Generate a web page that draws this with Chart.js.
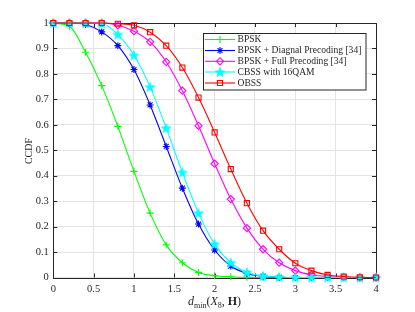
<!DOCTYPE html>
<html>
<head>
<meta charset="utf-8">
<script src="https://cdn.jsdelivr.net/npm/chart.js@4.4.1/dist/chart.umd.min.js"></script>
<style>
  html, body { margin: 0; padding: 0; background: #fff; }
  #wrap { width: 415px; height: 312px; }
</style>
</head>
<body>
<div id="wrap"><canvas id="ccdfChart" width="415" height="312"></canvas></div>
<script>
'use strict';

// ── Data ──────────────────────────────────────────────────────
const dminValues = [0, 0.2, 0.4, 0.6, 0.8, 1.0, 1.2, 1.4, 1.6, 1.8, 2.0, 2.2, 2.4, 2.6, 2.8, 3.0, 3.2, 3.4, 3.6, 3.8, 4.0];
const bpskCcdf   = [1, 0.987, 0.885, 0.754, 0.594, 0.417, 0.253, 0.128, 0.058, 0.020, 0.007, 0.003, 0.001, 0, 0, 0, 0, 0, 0, 0, 0];
const diagCcdf   = [1, 1, 0.994, 0.965, 0.911, 0.817, 0.678, 0.515, 0.351, 0.210, 0.108, 0.045, 0.016, 0.005, 0.001, 0, 0, 0, 0, 0, 0];
const fullCcdf   = [1, 1, 1, 1, 0.991, 0.968, 0.926, 0.847, 0.734, 0.596, 0.447, 0.308, 0.194, 0.111, 0.058, 0.027, 0.011, 0.004, 0.001, 0, 0];
const cbssCcdf   = [1, 1, 1, 0.998, 0.955, 0.873, 0.749, 0.587, 0.413, 0.253, 0.131, 0.058, 0.020, 0.006, 0.002, 0, 0, 0, 0, 0, 0];
const obssCcdf   = [1, 1, 1, 1, 0.997, 0.991, 0.964, 0.911, 0.825, 0.707, 0.570, 0.426, 0.292, 0.184, 0.111, 0.056, 0.027, 0.010, 0.004, 0.001, 0];

const seriesLabels = ['BPSK', 'BPSK + Diagnal Precoding [34]', 'BPSK + Full Precoding [34]', 'CBSS with 16QAM', 'OBSS'];
const xTicks = [0, 0.5, 1, 1.5, 2, 2.5, 3, 3.5, 4];
const yTicks = [0, 0.1, 0.2, 0.3, 0.4, 0.5, 0.6, 0.7, 0.8, 0.9, 1];

const SERIF = '"Liberation Serif", "DejaVu Serif", serif';
const AXIS_COLOR = '#262626';

// filled pentagram marker (MATLAB 'p')
function makePentagram(color, r) {
    const size = Math.ceil(r * 2 + 2);
    const c = document.createElement('canvas');
    c.width = size; c.height = size;
    const g = c.getContext('2d');
    const cx = size / 2, cy = size / 2 + 0.5;
    g.beginPath();
    for (let i = 0; i < 10; i++) {
        const rad = (i % 2 === 0) ? r : r * 0.42;
        const a = -Math.PI / 2 + i * Math.PI / 5;
        const px = cx + rad * Math.cos(a), py = cy + rad * Math.sin(a);
        if (i === 0) g.moveTo(px, py); else g.lineTo(px, py);
    }
    g.closePath();
    g.fillStyle = color; g.fill();
    g.strokeStyle = color; g.lineWidth = 0.8; g.stroke();
    return c;
}
const pentagram = makePentagram('#00ffff', 5);

const toPoints = ys => dminValues.map((x, i) => ({ x, y: ys[i] }));

const seriesStyles = [
    { data: bpskCcdf, color: '#00ff00', style: 'cross',   radius: 3.5, fill: '#00ff00' },
    { data: diagCcdf, color: '#0000ff', style: 'star',    radius: 3.5, fill: '#0000ff' },
    { data: fullCcdf, color: '#ff00ff', style: 'rectRot', radius: 3.6, fill: 'rgba(0,0,0,0)' },
    { data: cbssCcdf, color: '#00ffff', style: pentagram, radius: 5,   fill: '#00ffff' },
    { data: obssCcdf, color: '#ff0000', style: 'rect',    radius: 3.6, fill: 'rgba(0,0,0,0)' }
];

const datasets = seriesStyles.map((s, i) => ({
    label: seriesLabels[i],
    data: toPoints(s.data),
    borderColor: s.color,
    backgroundColor: s.fill,
    borderWidth: 1.1,
    pointStyle: s.style,
    pointRadius: s.radius,
    pointBorderColor: s.color,
    pointBackgroundColor: s.fill,
    pointBorderWidth: 1.1,
    cubicInterpolationMode: 'monotone',
    clip: false,
    order: 5 - i
}));

// ── Plugin: axes box, inward ticks, titles, legend ────────────
const matlabFrame = {
    id: 'matlabFrame',
    beforeDatasetsDraw(chart) {
        const { ctx, chartArea: a, scales } = chart;
        ctx.save();
        ctx.strokeStyle = AXIS_COLOR;
        ctx.lineWidth = 1;
        ctx.strokeRect(Math.round(a.left) + 0.5, Math.round(a.top) + 0.5,
                       Math.round(a.right - a.left), Math.round(a.bottom - a.top));
        const tl = 4;
        ctx.beginPath();
        xTicks.forEach(v => {
            const px = Math.round(scales.x.getPixelForValue(v)) + 0.5;
            ctx.moveTo(px, a.bottom); ctx.lineTo(px, a.bottom - tl);
            ctx.moveTo(px, a.top);    ctx.lineTo(px, a.top + tl);
        });
        yTicks.forEach(v => {
            const py = Math.round(scales.y.getPixelForValue(v)) + 0.5;
            ctx.moveTo(a.left, py);  ctx.lineTo(a.left + tl, py);
            ctx.moveTo(a.right, py); ctx.lineTo(a.right - tl, py);
        });
        ctx.stroke();
        ctx.restore();
    },
    afterDraw(chart) {
        const { ctx } = chart;
        ctx.save();
        ctx.fillStyle = AXIS_COLOR;

        // y title
        ctx.save();
        ctx.translate(29, 151);
        ctx.rotate(-Math.PI / 2);
        ctx.font = '10px ' + SERIF;
        ctx.textAlign = 'center';
        ctx.textBaseline = 'middle';
        ctx.fillText('CCDF', 0, 0);
        ctx.restore();

        // x title: d_min(X_8, H)
        const parts = [
            { t: 'd',   font: 'italic 12px ' + SERIF, dy: 0 },
            { t: 'min', font: '8px ' + SERIF,         dy: 3 },
            { t: '(',   font: '12px ' + SERIF,        dy: 0 },
            { t: 'X',   font: 'italic 12px ' + SERIF, dy: 0 },
            { t: '8',   font: '8px ' + SERIF,         dy: 3 },
            { t: ', ',  font: '12px ' + SERIF,        dy: 0 },
            { t: 'H',   font: 'bold 12px ' + SERIF,   dy: 0 },
            { t: ')',   font: '12px ' + SERIF,        dy: 0 }
        ];
        let total = 0;
        parts.forEach(p => { ctx.font = p.font; p.w = ctx.measureText(p.t).width; total += p.w; });
        let xx = 214.5 - total / 2;
        ctx.textBaseline = 'alphabetic';
        ctx.textAlign = 'left';
        parts.forEach(p => { ctx.font = p.font; ctx.fillText(p.t, xx, 304.5 + p.dy); xx += p.w; });

        // legend box
        const box = { left: 203, top: 33, right: 366.5, bottom: 90.5 };
        ctx.fillStyle = '#fff';
        ctx.fillRect(box.left, box.top, box.right - box.left, box.bottom - box.top);
        ctx.strokeStyle = AXIS_COLOR;
        ctx.lineWidth = 1;
        ctx.strokeRect(box.left + 0.5, box.top + 0.5, box.right - box.left - 1, box.bottom - box.top - 1);

        ctx.font = '10px ' + SERIF;
        const longest = ctx.measureText(seriesLabels[1]).width;
        const fs = Math.min(11, 10 * 124 / longest);
        const rowY = [39.5, 50.5, 61.3, 72, 83];
        seriesStyles.forEach((s, i) => {
            const y = rowY[i];
            ctx.strokeStyle = s.color;
            ctx.lineWidth = 1.1;
            ctx.beginPath();
            ctx.moveTo(205, y); ctx.lineTo(235, y);
            ctx.stroke();
            ctx.fillStyle = s.fill;
            Chart.helpers.drawPoint(ctx, { pointStyle: s.style, radius: s.radius, borderWidth: 1.1, rotation: 0 }, 220, y);
            ctx.fillStyle = AXIS_COLOR;
            ctx.font = fs + 'px ' + SERIF;
            ctx.textBaseline = 'middle';
            ctx.fillText(seriesLabels[i], 237.5, y);
        });
        ctx.restore();
    }
};

new Chart(document.getElementById('ccdfChart').getContext('2d'), {
    type: 'line',
    data: { datasets },
    options: {
        responsive: false,
        animation: false,
        events: [],
        layout: { autoPadding: false, padding: { left: 0, top: 23, right: 39, bottom: 0 } },
        plugins: { legend: { display: false }, tooltip: { enabled: false } },
        scales: {
            x: {
                type: 'linear', min: 0, max: 4,
                afterFit: s => { s.height = 34.5; },
                afterBuildTicks: s => { s.ticks = xTicks.map(v => ({ value: v })); },
                grid: { color: '#e3e3e3', lineWidth: 1, drawTicks: false },
                border: { display: false },
                ticks: { padding: 5, color: AXIS_COLOR, font: { family: SERIF, size: 10.5 }, maxRotation: 0,
                         callback: v => String(+v.toFixed(1)) }
            },
            y: {
                type: 'linear', min: 0, max: 1,
                afterFit: s => { s.width = 53.3; },
                afterBuildTicks: s => { s.ticks = yTicks.map(v => ({ value: v })); },
                grid: { color: '#e3e3e3', lineWidth: 1, drawTicks: false },
                border: { display: false },
                ticks: { padding: 4.5, color: AXIS_COLOR, font: { family: SERIF, size: 10.5 },
                         callback: v => String(+v.toFixed(1)) }
            }
        }
    },
    plugins: [matlabFrame]
});
</script>
</body>
</html>
